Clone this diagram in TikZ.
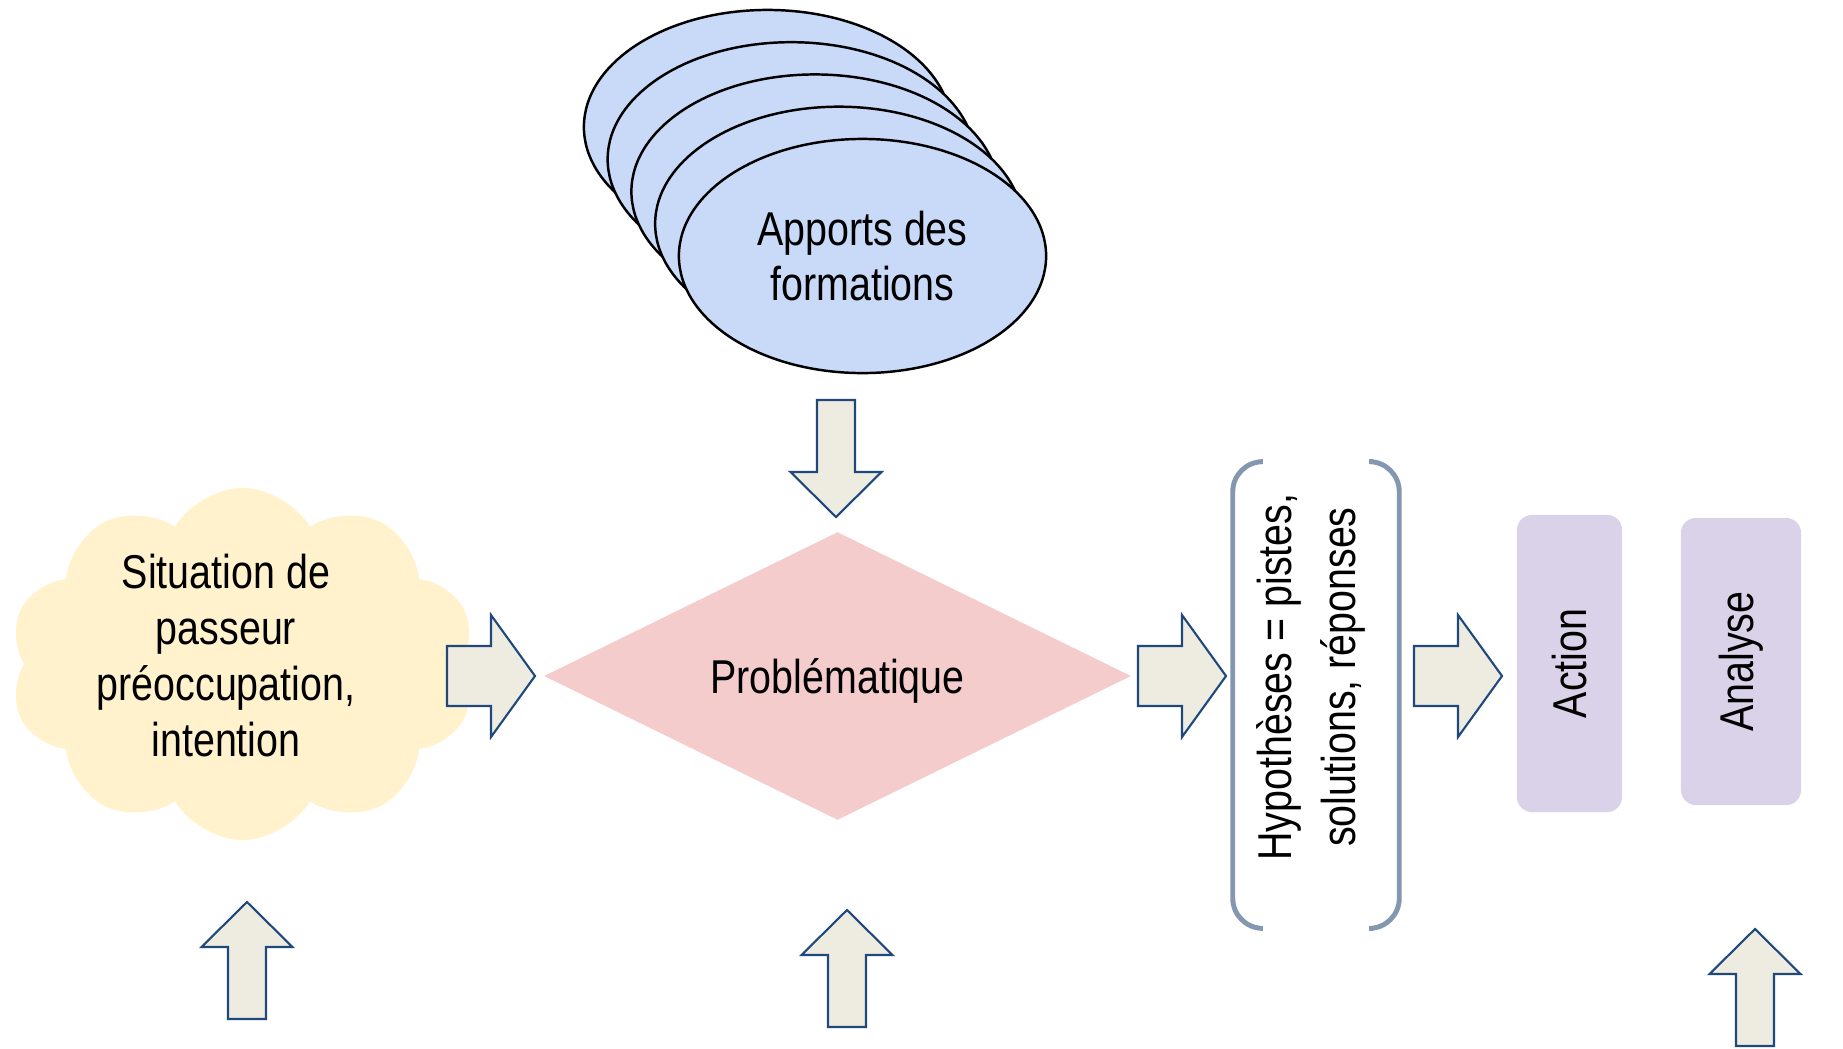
\documentclass[tikz,border=0pt]{standalone}
\usepackage{fontspec}
\setmainfont[FakeStretch=0.83]{Liberation Sans}
\usetikzlibrary{shapes.geometric,shapes.symbols}
\definecolor{formblue}{HTML}{C9DAF8}
\definecolor{probpink}{HTML}{F4CCCC}
\definecolor{sitcream}{HTML}{FFF2CC}
\definecolor{stepmauve}{HTML}{D9D2E9}
\definecolor{arrowfill}{HTML}{EEECE1}
\definecolor{arrowline}{HTML}{1F497D}
\definecolor{bracketgrey}{HTML}{8497B0}

\begin{document}
\begin{tikzpicture}[x=0.01cm, y=-0.01cm, font=\fontsize{13.5}{15.9}\selectfont]

\tikzstyle{form}=[ellipse, draw, line width=0.7pt, fill=formblue, minimum width=3.67cm, minimum height=2.34cm, inner sep=0pt, align=center]
\tikzstyle{puff}=[cloud, cloud puffs=10, cloud puff arc=120, fill=sitcream, minimum width=4.66cm, minimum height=3.52cm]
\tikzstyle{prob}=[diamond, shape aspect=2, fill=probpink, minimum width=5.87cm, minimum height=2.88cm, inner sep=0pt, text depth=0pt]
\tikzstyle{stepbox}=[rectangle, rounded corners=0.15cm, fill=stepmauve, rotate=90]
\tikzstyle{blockarrow}=[draw=arrowline, fill=arrowfill, line width=0.6pt]
\tikzstyle{bracket}=[draw=bracketgrey, line width=1.4pt, rounded corners=0.3cm]

\tikzset{
  rarrow/.pic={\path[blockarrow] (0,-30) -- (44,-30) -- (44,-61) -- (88,0) -- (44,61) -- (44,30) -- (0,30) -- cycle;},
  uparrow/.pic={\path[blockarrow] (0,0) -- (45.5,45) -- (19,45) -- (19,117) -- (-19,117) -- (-19,45) -- (-45.5,45) -- cycle;}
}

\useasboundingbox (0,0) rectangle (1843,1048);

\node (form4) [form] at (767.5,127) {};
\node (form3) [form] at (791.25,159.25) {};
\node (form2) [form] at (815,191.5) {};
\node (form1) [form] at (838.75,223.75) {};
\node (apports) [form] at (862.5,256) {Apports des\\formations};

\node (nuage) [puff] at (242.5,664) {};
\node (sit) [align=center] at (226,655.5) {Situation de\\passeur\\préoccupation,\\intention};

\node (prob) [prob] at (837.5,676) {Problématique};

\node (hypbox) [minimum width=1.65cm, minimum height=4.65cm] at (1316,695) {};
\draw [bracket] ([xshift=0.28cm]hypbox.north west) -- (hypbox.north west) -- (hypbox.south west) -- ([xshift=0.28cm]hypbox.south west);
\draw [bracket] ([xshift=-0.26cm]hypbox.north east) -- (hypbox.north east) -- (hypbox.south east) -- ([xshift=-0.26cm]hypbox.south east);
\node (hyp) [rotate=90, align=center, font=\fontsize{13.5}{18.3}\selectfont] at (1311,677) {Hypothèses = pistes,\\solutions, réponses};

\node (action) [stepbox, minimum width=2.97cm, minimum height=1.05cm] at (1569.5,663.5) {Action};
\node (analyse) [stepbox, minimum width=2.87cm, minimum height=1.20cm] at (1741,661.5) {Analyse};

\pic at (447,676) {rarrow};
\pic at (1138,676) {rarrow};
\pic at (1414,676) {rarrow};
\pic [rotate=180] at (836,517) {uparrow};
\pic at (247,902) {uparrow};
\pic at (847,910) {uparrow};
\pic at (1755,929) {uparrow};

\end{tikzpicture}
\end{document}
